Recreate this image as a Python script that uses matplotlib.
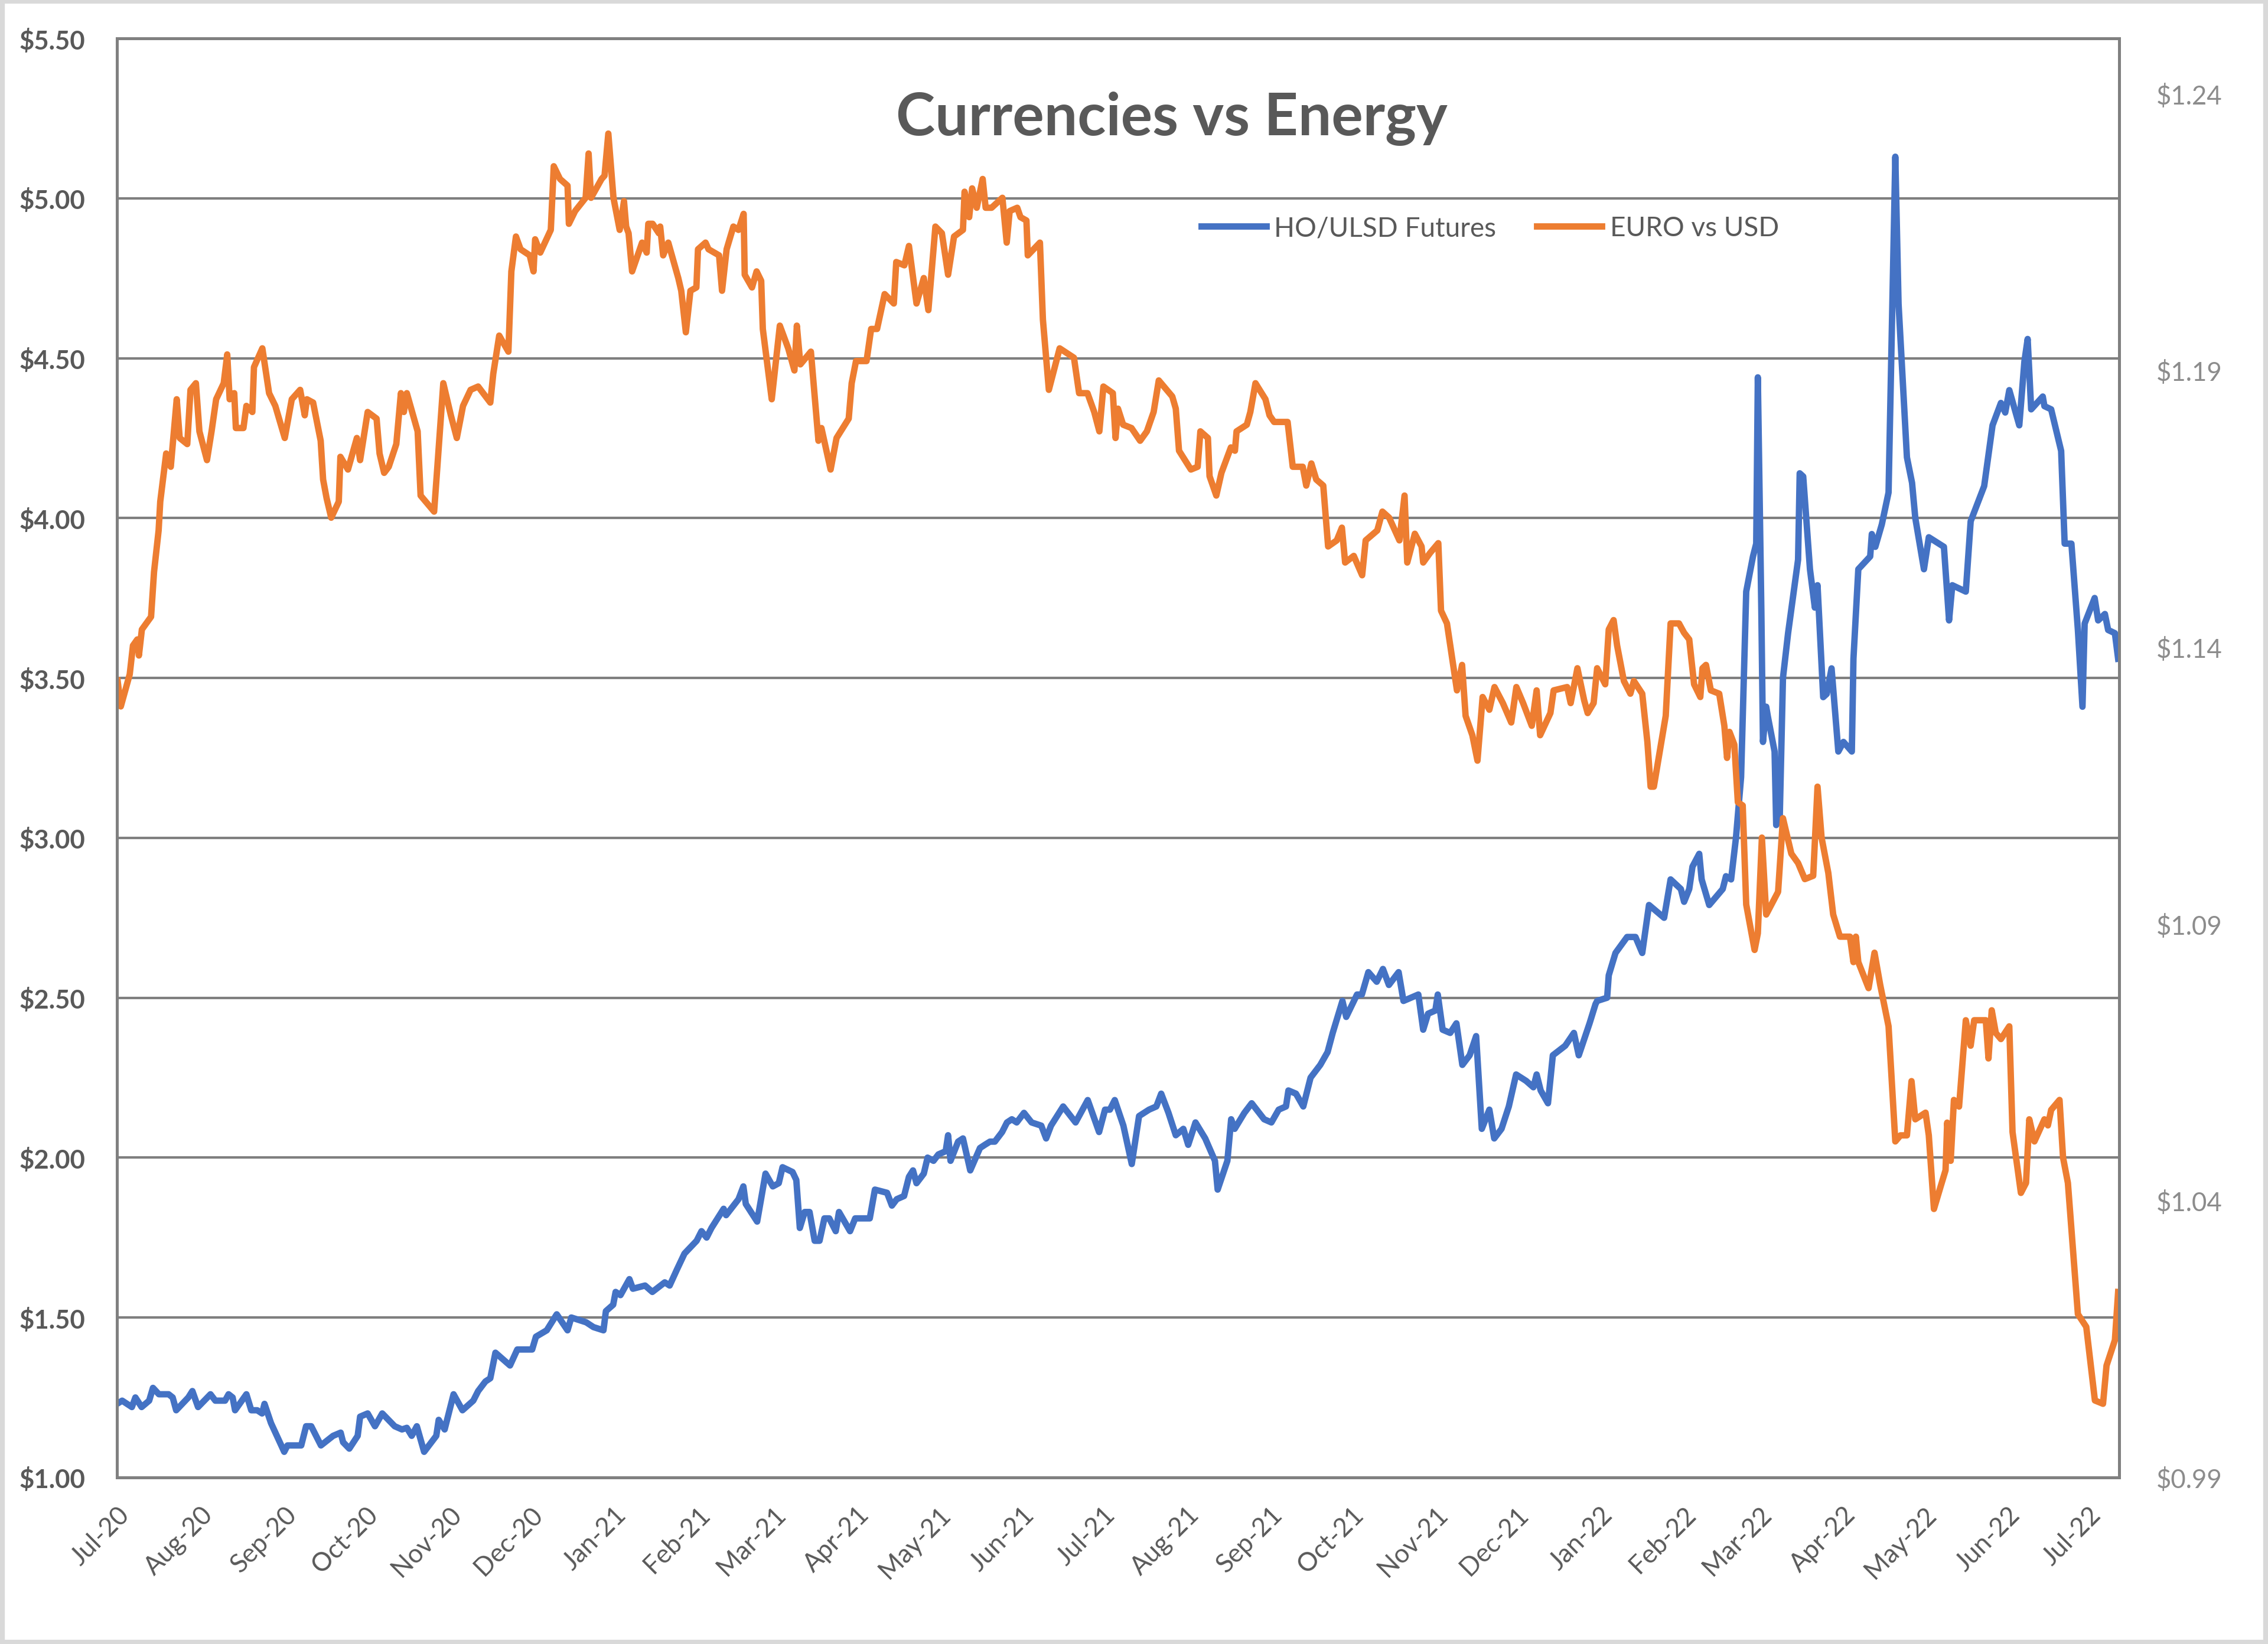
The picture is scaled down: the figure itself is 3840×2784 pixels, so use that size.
import matplotlib
matplotlib.use('Agg')
import matplotlib.pyplot as plt
import matplotlib.dates as mdates
from matplotlib.patches import Rectangle
from matplotlib.ticker import FuncFormatter
import pandas as pd

plt.rcParams['font.family'] = ['Lato', 'DejaVu Sans']

START = pd.Timestamp('2020-07-01')
END_DAY = 741.3

# HO/ULSD futures ($/gal) - days after 1 Jul 2020
ho_days = [0.0, 1.9, 5.5, 6.8, 9.1, 11.9, 13.3, 15.5, 19.1, 20.6, 21.9, 26.4, 27.9, 30.0,
           34.6, 36.4, 40.0, 41.3, 42.8, 43.7, 47.9, 49.7, 51.9, 53.7, 54.6, 57.0, 61.9,
           63.1, 68.2, 70.0, 71.9, 75.5, 80.0, 82.8, 83.7, 86.0, 89.1, 90.0, 92.8, 95.5,
           98.2, 102.8, 105.5, 107.3, 109.1, 111.0, 113.7, 118.2, 119.1, 121.3, 124.6,
           127.9, 131.9, 133.7, 136.4, 138.2, 140.1, 145.5, 148.2, 153.7, 155.1, 159.1,
           162.8, 166.8, 168.2, 173.7, 176.4, 180.1, 181.0, 183.7, 184.6, 186.4, 189.7,
           191.0, 195.5, 198.2, 202.8, 204.6, 207.3, 210.1, 214.6, 216.4, 218.3, 220.1,
           224.6, 225.5, 230.1, 231.9, 232.8, 237.0, 240.1, 242.8, 245.0, 246.4, 250.1,
           251.5, 252.8, 254.6, 256.4, 258.3, 260.1, 261.9, 263.7, 266.1, 267.3, 271.4,
           273.3, 278.7, 280.6, 285.1, 286.9, 288.7, 291.4, 293.2, 294.7, 296.0, 298.7,
           300.1, 302.3, 304.1, 306.8, 307.7, 308.6, 311.4, 313.2, 315.9, 319.5, 321.3,
           323.2, 325.0, 327.7, 329.5, 331.3, 333.1, 335.8, 338.6, 342.2, 344.0, 345.8,
           350.3, 354.9, 359.4, 363.6, 365.8, 367.6, 369.4, 372.6, 375.7, 378.4, 382.1,
           384.8, 386.6, 389.3, 392.0, 394.8, 396.6, 399.3, 402.9, 406.5, 407.5, 411.1,
           412.5, 413.8, 417.4, 420.1, 424.7, 427.4, 430.1, 432.8, 433.7, 436.5, 439.2,
           441.9, 445.5, 448.2, 450.1, 453.7, 455.1, 459.1, 460.9, 463.3, 466.4, 468.7,
           470.9, 474.5, 476.3, 481.8, 483.6, 485.4, 488.1, 489.0, 490.8, 493.6, 495.9,
           498.1, 500.8, 503.2, 505.3, 508.1, 509.9, 512.6, 515.3, 518.0, 521.7, 524.4,
           525.6, 527.1, 529.8, 531.6, 536.2, 539.4, 541.2, 545.2, 547.4, 548.0, 551.7,
           552.3, 554.8, 559.1, 562.2, 564.7, 567.2, 572.8, 575.2, 579.0, 580.2, 582.1,
           583.3, 585.8, 586.7, 589.5, 594.5, 595.7, 597.6, 599.4, 601.3, 603.2, 605.7,
           606.9, 607.5, 608.8, 609.4, 610.6, 611.2, 613.7, 614.3, 615.6, 616.8, 618.7,
           622.4, 623.0, 624.3, 626.8, 628.6, 629.6, 631.7, 633.0, 634.8, 637.3, 639.2,
           642.3, 642.9, 644.7, 649.1, 649.7, 651.0, 653.4, 655.9, 658.4, 659.6, 662.7,
           664.6, 665.8, 669.0, 670.8, 676.4, 678.3, 679.5, 684.5, 686.3, 691.3, 693.1,
           694.4, 697.5, 699.1, 700.6, 704.3, 706.2, 707.4, 708.7, 713.0, 713.6, 716.1,
           719.8, 721.1, 723.6, 726.0, 727.7, 728.5, 732.2, 733.5, 736.0, 737.2, 739.7,
           740.9]
ho_price = [1.23, 1.24, 1.22, 1.25, 1.22, 1.24, 1.28, 1.26, 1.26, 1.25, 1.21, 1.25, 1.27, 1.22,
            1.26, 1.24, 1.24, 1.26, 1.25, 1.21, 1.26, 1.21, 1.21, 1.20, 1.23, 1.17, 1.08,
            1.10, 1.10, 1.16, 1.16, 1.10, 1.13, 1.14, 1.11, 1.09, 1.13, 1.19, 1.20, 1.16,
            1.20, 1.16, 1.15, 1.155, 1.13, 1.16, 1.08, 1.13, 1.18, 1.15, 1.26,
            1.21, 1.24, 1.27, 1.30, 1.31, 1.39, 1.35, 1.40, 1.40, 1.44, 1.46,
            1.51, 1.46, 1.50, 1.485, 1.47, 1.46, 1.52, 1.54, 1.58, 1.57, 1.62,
            1.59, 1.60, 1.58, 1.61, 1.60, 1.65, 1.70, 1.74, 1.77, 1.75, 1.78,
            1.84, 1.82, 1.87, 1.91, 1.855, 1.80, 1.95, 1.91, 1.92, 1.97, 1.955,
            1.93, 1.78, 1.83, 1.83, 1.74, 1.74, 1.81, 1.81, 1.77, 1.83, 1.77,
            1.81, 1.81, 1.90, 1.89, 1.85, 1.87, 1.88, 1.94, 1.96, 1.92, 1.95,
            2.00, 1.99, 2.01, 2.02, 2.07, 1.99, 2.05, 2.06, 1.96, 2.03, 2.04,
            2.05, 2.05, 2.08, 2.11, 2.12, 2.11, 2.14, 2.11, 2.10, 2.06, 2.10,
            2.16, 2.11, 2.18, 2.08, 2.15, 2.15, 2.18, 2.10, 1.98, 2.13, 2.15,
            2.16, 2.20, 2.14, 2.07, 2.09, 2.04, 2.11, 2.06, 1.99, 1.90, 1.99,
            2.12, 2.09, 2.14, 2.17, 2.12, 2.11, 2.15, 2.16, 2.21, 2.20, 2.16,
            2.25, 2.29, 2.33, 2.39, 2.49, 2.44, 2.51, 2.51, 2.58, 2.55, 2.59,
            2.54, 2.58, 2.49, 2.51, 2.40, 2.45, 2.46, 2.51, 2.40, 2.39, 2.42,
            2.29, 2.32, 2.38, 2.09, 2.15, 2.06, 2.09, 2.16, 2.26, 2.24, 2.22,
            2.26, 2.21, 2.17, 2.32, 2.35, 2.39, 2.32, 2.42, 2.48, 2.49, 2.50,
            2.57, 2.64, 2.69, 2.69, 2.64, 2.79, 2.75, 2.87, 2.84, 2.80, 2.84,
            2.91, 2.95, 2.87, 2.79, 2.84, 2.88, 2.87, 3.00, 3.19, 3.77, 3.88,
            3.92, 4.44, 3.71, 3.30, 3.41, 3.38, 3.27, 3.04, 3.06, 3.50, 3.64,
            3.87, 4.14, 4.13, 3.84, 3.72, 3.79, 3.44, 3.45, 3.53, 3.27, 3.30,
            3.27, 3.56, 3.84, 3.88, 3.95, 3.91, 3.98, 4.08, 5.13, 4.67, 4.19,
            4.11, 4.00, 3.84, 3.94, 3.91, 3.68, 3.79, 3.77, 3.99, 4.10, 4.21,
            4.29, 4.36, 4.33, 4.40, 4.29, 4.49, 4.56, 4.34, 4.38, 4.35, 4.34,
            4.21, 3.92, 3.92, 3.65, 3.41, 3.67, 3.75, 3.68, 3.70, 3.65, 3.64,
            3.56]

# EUR/USD rate - days after 1 Jul 2020
eur_days = [0.2, 1.4, 4.7, 5.9, 7.5, 8.1, 9.2, 12.6, 13.7, 15.4, 16.0, 18.2, 19.9, 22.1,
            23.2, 26.0, 27.2, 29.2, 30.5, 33.3, 35.0, 36.7, 39.5, 40.8, 41.7, 43.4, 44.0,
            46.8, 47.9, 50.1, 50.7, 53.8, 56.3, 58.6, 62.1, 64.7, 67.8, 69.5, 70.3, 72.6,
            75.4, 76.3, 77.6, 79.3, 82.1, 82.7, 85.5, 88.8, 90.0, 92.8, 96.1, 97.2, 98.9,
            100.6, 103.4, 105.1, 106.2, 107.3, 111.3, 112.4, 117.4, 118.6, 120.8, 123.6,
            125.8, 128.1, 130.9, 133.7, 138.2, 139.3, 141.5, 144.9, 146.0, 147.7, 149.4,
            152.8, 154.2, 154.8, 156.7, 160.6, 161.7, 164.0, 166.8, 167.3, 169.6, 173.5,
            174.6, 175.5, 179.4, 180.5, 181.9, 183.8, 186.1, 187.7, 188.5, 189.4, 190.7,
            194.4, 196.1, 196.7, 198.3, 200.6, 201.1, 202.2, 204.1, 207.8, 208.9, 210.6,
            212.3, 214.5, 215.1, 217.9, 219.0, 222.9, 224.0, 225.7, 228.2, 230.1, 232.0,
            232.4, 235.1, 236.8, 238.5, 239.1, 242.4, 245.4, 248.5, 250.8, 251.7, 253.0,
            256.9, 259.7, 260.8, 264.2, 266.4, 270.9, 272.0, 273.6, 277.5, 279.2, 281.4,
            284.2, 287.6, 288.5, 291.5, 293.2, 296.0, 298.7, 300.4, 303.0, 305.4, 307.7,
            309.9, 313.2, 313.8, 315.5, 316.6, 318.3, 320.5, 321.6, 323.8, 327.8, 329.4,
            330.5, 333.3, 334.5, 336.7, 337.2, 341.7, 342.8, 345.0, 349.0, 354.3, 356.2,
            359.3, 361.8, 363.7, 365.2, 368.7, 369.7, 370.6, 372.5, 375.6, 378.8, 381.3,
            383.8, 385.7, 387.6, 390.7, 392.0, 393.2, 397.6, 400.1, 401.1, 403.9, 404.5,
            407.0, 408.9, 412.4, 413.9, 414.5, 418.3, 419.6, 421.5, 425.2, 426.7, 428.4,
            433.4, 435.3, 439.0, 440.3, 442.2, 444.0, 446.6, 448.4, 451.6, 453.5, 454.7,
            457.9, 461.0, 462.3, 466.6, 468.5, 471.0, 474.8, 476.7, 477.7, 480.5, 483.0,
            483.6, 486.1, 489.2, 490.2, 492.4, 496.1, 498.0, 499.3, 501.8, 503.7, 505.6,
            508.1, 510.0, 513.1, 516.2, 518.1, 520.6, 523.8, 525.6, 526.9, 530.7, 531.9,
            536.9, 538.2, 540.7, 543.2, 544.5, 546.7, 548.0, 551.0, 552.3, 554.1, 555.4,
            557.9, 560.3, 561.6, 564.7, 566.6, 567.8, 569.0, 573.4, 575.2, 578.3, 580.2,
            582.1, 583.9, 586.2, 587.0, 588.3, 590.1, 593.2, 595.1, 596.1, 597.0, 598.8,
            600.1, 601.9, 603.2, 606.3, 607.5, 609.0, 610.6, 615.0, 616.8, 619.9, 622.4,
            624.9, 628.0, 629.6, 631.1, 633.6, 635.4, 637.9, 641.6, 642.9, 643.8, 644.7,
            648.5, 650.7, 652.8, 655.9, 658.4, 660.3, 662.7, 664.4, 665.8, 669.6, 670.8,
            672.7, 675.2, 677.0, 677.6, 678.9, 680.1, 682.0, 684.5, 686.3, 687.6, 691.9,
            692.9, 694.1, 695.6, 697.5, 700.6, 701.8, 704.9, 706.8, 708.0, 709.9, 713.6,
            714.9, 716.1, 719.2, 720.5, 722.3, 726.0, 729.1, 732.3, 735.3, 736.6, 739.7,
            740.9]
eur_usd = [1.1340, 1.1293, 1.1351, 1.1403, 1.1414, 1.1385, 1.1432, 1.1455, 1.1536, 1.1611, 1.1663, 1.1750, 1.1726, 1.1848,
           1.1778, 1.1767, 1.1865, 1.1877, 1.1790, 1.1738, 1.1790, 1.1848, 1.1877, 1.1929, 1.1848, 1.1859, 1.1796,
           1.1796, 1.1836, 1.1825, 1.1906, 1.1940, 1.1859, 1.1836, 1.1778, 1.1848, 1.1865, 1.1819, 1.1848, 1.1842,
           1.1773, 1.1703, 1.1669, 1.1634, 1.1663, 1.1744, 1.1721, 1.1778, 1.1738, 1.1825, 1.1813, 1.1750, 1.1715,
           1.1726, 1.1767, 1.1859, 1.1825, 1.1859, 1.1790, 1.1674, 1.1645, 1.1726, 1.1877, 1.1819,
           1.1778, 1.1836, 1.1865, 1.1871, 1.1842, 1.1894, 1.1963, 1.1934, 1.2079, 1.2142, 1.2119,
           1.2108, 1.2079, 1.2137, 1.2113, 1.2154, 1.2269, 1.2246, 1.2234, 1.2165, 1.2188, 1.2212,
           1.2292, 1.2212, 1.2246, 1.2252, 1.2328, 1.2212, 1.2154, 1.2206, 1.2160, 1.2148, 1.2079,
           1.2131, 1.2113, 1.2165, 1.2165, 1.2148, 1.2160, 1.2108, 1.2131, 1.2067, 1.2044, 1.1969,
           1.2044, 1.2050, 1.2119, 1.2131, 1.2119, 1.2108, 1.2044, 1.2119, 1.2160, 1.2154, 1.2183,
           1.2073, 1.2050, 1.2079, 1.2062, 1.1975, 1.1848, 1.1981, 1.1940, 1.1900, 1.1981, 1.1911,
           1.1934, 1.1773, 1.1796, 1.1721, 1.1778, 1.1813, 1.1877, 1.1917, 1.1917, 1.1975, 1.1975,
           1.2038, 1.2021, 1.2096, 1.2090, 1.2125, 1.2021, 1.2067, 1.2009, 1.2160, 1.2148, 1.2073,
           1.2142, 1.2154, 1.2223, 1.2177, 1.2229, 1.2194, 1.2246, 1.2194, 1.2194, 1.2212, 1.2131,
           1.2188, 1.2194, 1.2177, 1.2171, 1.2108, 1.2131, 1.1992, 1.1865, 1.1940, 1.1923, 1.1859,
           1.1859, 1.1825, 1.1790, 1.1871, 1.1859, 1.1778, 1.1831, 1.1802, 1.1796, 1.1773, 1.1790,
           1.1825, 1.1882, 1.1871, 1.1853, 1.1831, 1.1755, 1.1721, 1.1726, 1.1790, 1.1778, 1.1709,
           1.1674, 1.1715, 1.1761, 1.1755, 1.1790, 1.1802, 1.1825, 1.1877, 1.1848, 1.1819, 1.1807,
           1.1807, 1.1726, 1.1726, 1.1692, 1.1732, 1.1703, 1.1692, 1.1582, 1.1593, 1.1616, 1.1553,
           1.1565, 1.1530, 1.1593, 1.1611, 1.1645, 1.1634, 1.1593, 1.1674, 1.1553, 1.1605, 1.1582,
           1.1553, 1.1570, 1.1588, 1.1466, 1.1443, 1.1322, 1.1368, 1.1276, 1.1241, 1.1195, 1.1310,
           1.1287, 1.1328, 1.1299, 1.1264, 1.1328, 1.1299, 1.1258, 1.1322, 1.1241, 1.1281, 1.1322,
           1.1328, 1.1299, 1.1362, 1.1304, 1.1281, 1.1299, 1.1362, 1.1333, 1.1432, 1.1449, 1.1403,
           1.1339, 1.1316, 1.1339, 1.1316, 1.1229, 1.1148, 1.1148, 1.1276, 1.1443, 1.1443, 1.1426,
           1.1414, 1.1333, 1.1310, 1.1362, 1.1368, 1.1322, 1.1316, 1.1258, 1.1200, 1.1247, 1.1224,
           1.1120, 1.1114, 1.0935, 1.0853, 1.0883, 1.1056, 1.0917, 1.0958, 1.1091, 1.1027, 1.1010,
           1.0981, 1.0987, 1.1148, 1.1056, 1.0992, 1.0917, 1.0877, 1.0877, 1.0831, 1.0877, 1.0831,
           1.0784, 1.0848, 1.0790, 1.0715, 1.0507, 1.0518, 1.0518, 1.0616, 1.0547, 1.0559, 1.0518,
           1.0385, 1.0426, 1.0455, 1.0541, 1.0472, 1.0582, 1.0570, 1.0726, 1.0680, 1.0726, 1.0726,
           1.0657, 1.0744, 1.0703, 1.0692, 1.0715, 1.0524, 1.0414, 1.0432, 1.0547, 1.0507, 1.0547,
           1.0536, 1.0564, 1.0582, 1.0478, 1.0432, 1.0195, 1.0172, 1.0039, 1.0033, 1.0102, 1.0148,
           1.0235]

left_ticks = [1.00, 1.50, 2.00, 2.50, 3.00, 3.50, 4.00, 4.50, 5.00, 5.50]
right_ticks = [0.99, 1.04, 1.09, 1.14, 1.19, 1.24]

ho_dates = START + pd.to_timedelta(ho_days, unit='D')
eur_dates = START + pd.to_timedelta(eur_days, unit='D')

fig = plt.figure(figsize=(12.8, 9.2833), dpi=300)
ax = fig.add_axes([0.0516, 0.1013, 0.8828, 0.875])
ax2 = ax.twinx()

ax.plot(ho_dates, ho_price, color='#4472C4', lw=2.6, label='HO/ULSD Futures')
ax2.plot(eur_dates, eur_usd, color='#ED7D31', lw=2.6, label='EURO vs USD')

ax.set_ylim(1.0, 5.5)
ax2.set_ylim(0.99, 1.25)
ax.set_yticks(left_ticks)
ax2.set_yticks(right_ticks)
ax.yaxis.set_major_formatter(FuncFormatter(lambda v, p: f'${v:.2f}'))
ax2.yaxis.set_major_formatter(FuncFormatter(lambda v, p: f'${v:.2f}'))
ax.grid(axis='y', color='#7f7f7f', lw=1.0)
ax.set_axisbelow(True)

ax.set_xlim(START, START + pd.Timedelta(days=END_DAY))
ax.xaxis.set_major_locator(mdates.MonthLocator())
ax.xaxis.set_major_formatter(mdates.DateFormatter('%b-%y'))

ax.tick_params(axis='y', length=0, pad=13, labelsize=10.5, labelcolor='#595959')
ax2.tick_params(axis='y', length=0, pad=15, labelsize=10.5, labelcolor='#8c8c8c')
ax.tick_params(axis='x', length=0, pad=10, labelsize=10.5, labelcolor='#595959')
for lbl in ax.get_yticklabels():
    lbl.set_fontweight('bold')
for lbl in ax.get_xticklabels():
    lbl.set_rotation(45)
    lbl.set_ha('right')
    lbl.set_rotation_mode('anchor')

for a in (ax, ax2):
    for s in a.spines.values():
        s.set_color('#808080')
        s.set_linewidth(1.2)

fig.text(0.5166, 0.928, 'Currencies vs Energy', ha='center', va='center',
         fontsize=24, fontweight='bold', color='#595959')

h1, l1 = ax.get_legend_handles_labels()
h2, l2 = ax2.get_legend_handles_labels()
leg = fig.legend(h1 + h2, l1 + l2, loc='center', bbox_to_anchor=(0.657, 0.861),
                 ncol=2, frameon=False, fontsize=11, handlelength=2.4,
                 handletextpad=0.3, columnspacing=1.5)
for t in leg.get_texts():
    t.set_color('#595959')

fig.add_artist(Rectangle((0.001, 0.001), 0.998, 0.998, transform=fig.transFigure,
                         fill=False, edgecolor='#d9d9d9', lw=2))

fig.savefig('out.png', dpi=300)
